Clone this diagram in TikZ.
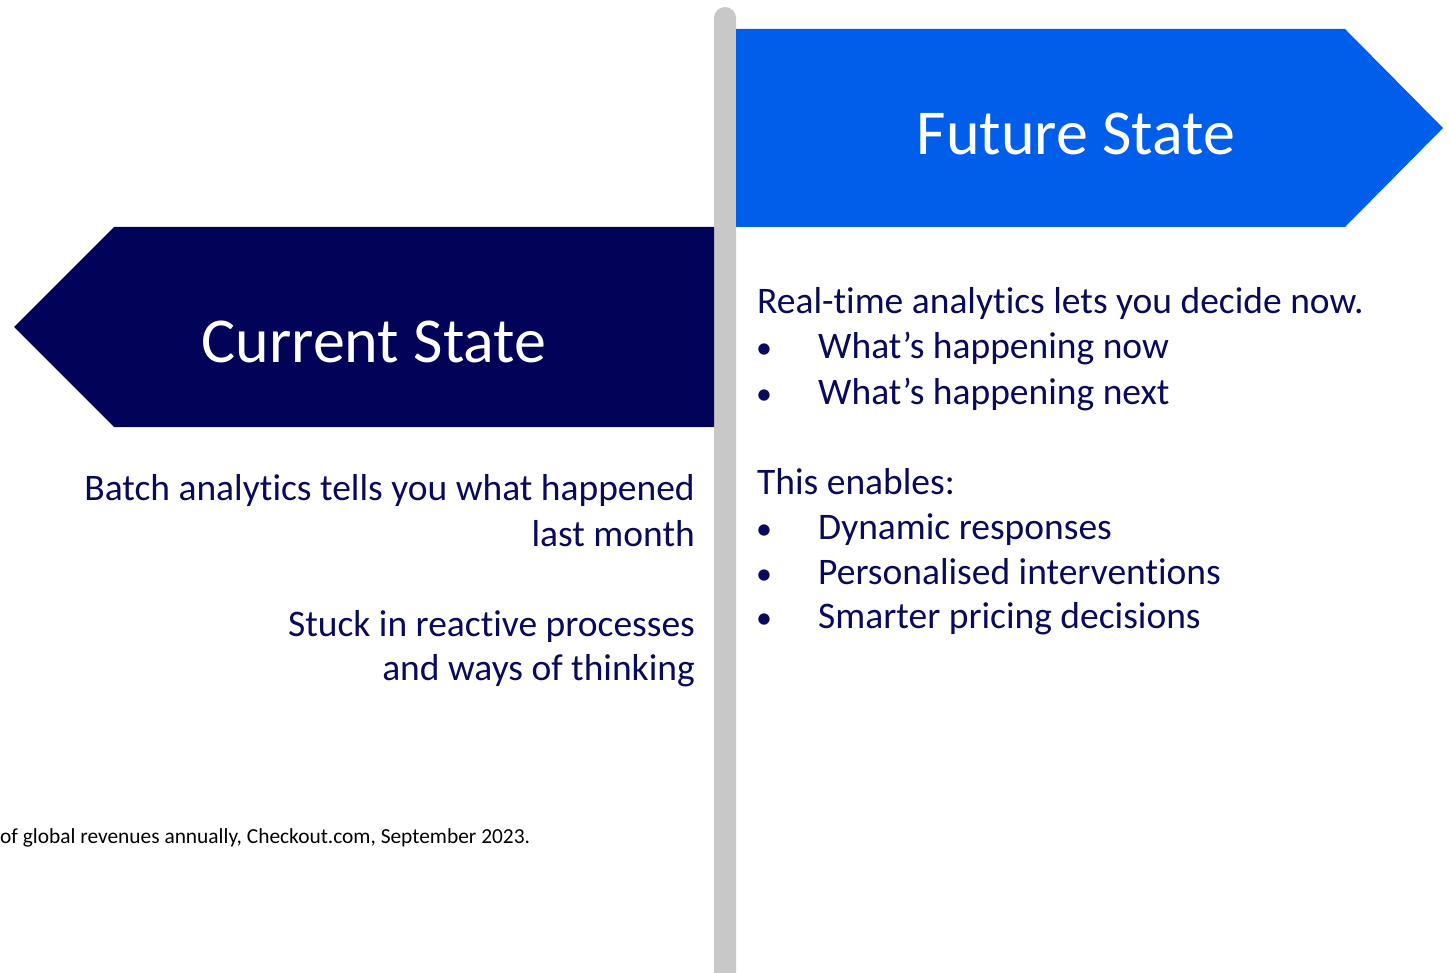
\documentclass[tikz,border=0pt]{standalone}
\usepackage{fontspec}
\setmainfont[Ligatures=NoCommon]{Carlito}
\definecolor{navy}{RGB}{2,2,88}
\definecolor{brightblue}{RGB}{0,94,234}
\definecolor{textnavy}{RGB}{10,10,90}
\definecolor{polegrey}{RGB}{200,200,200}
\begin{document}
\begin{tikzpicture}[x=1pt,y=-1pt,
  title/.style={text=white,inner sep=0pt,anchor=base,font=\fontsize{64}{76}\selectfont},
  body/.style={text=textnavy,inner sep=0pt,font=\fontsize{37.5}{45}\selectfont},
  bulletmark/.style={body,anchor=base west},
  note/.style={text=black,inner sep=0pt,anchor=base west,font=\fontsize{21.4}{25}\selectfont}]
\useasboundingbox (0,0) rectangle (1450,973);
% sign post
\fill[polegrey] (714,973) -- (714,18) arc[start angle=180,end angle=360,radius=11] -- (736,973) -- cycle;
% right-pointing sign
\fill[brightblue] (736,29) -- (1345,29) -- (1443,128) -- (1345,227) -- (736,227) -- cycle;
% left-pointing sign
\fill[navy] (714,227) -- (114,227) -- (14,327) -- (114,427) -- (714,427) -- cycle;
\node[title] (future) at (1076,155) {Future State};
\node[title] (current) at (374,362) {Current State};
% current state text
\node[body,anchor=base east] (c1) at (695,500) {Batch analytics tells you what happened};
\node[body,anchor=base east] (c2) at (695,546) {last month};
\node[body,anchor=base east] (c3) at (695,636) {Stuck in reactive processes};
\node[body,anchor=base east] (c4) at (695,680) {and ways of thinking};
% future state text
\node[bulletmark] (f0) at (757,314) {Real-time analytics lets you decide now.};
\node[bulletmark,font=\fontsize{32}{45}\selectfont] (b1) at (756,359) {•};
\node[bulletmark] (f1) at (818,359) {What’s happening now};
\node[bulletmark,font=\fontsize{32}{45}\selectfont] (b2) at (756,404) {•};
\node[bulletmark] (f2) at (818,404) {What’s happening next};
\node[bulletmark] (f3) at (757,494) {This enables:};
\node[bulletmark,font=\fontsize{32}{45}\selectfont] (b4) at (756,539) {•};
\node[bulletmark] (f4) at (818,539) {Dynamic responses};
\node[bulletmark,font=\fontsize{32}{45}\selectfont] (b5) at (756,584) {•};
\node[bulletmark] (f5) at (818,584) {Personalised interventions};
\node[bulletmark,font=\fontsize{32}{45}\selectfont] (b6) at (756,628) {•};
\node[bulletmark] (f6) at (818,628) {Smarter pricing decisions};
% footnote
\node[note] (fn) at (0,843) {of global revenues annually, Checkout.com, September 2023.};
\end{tikzpicture}
\end{document}
